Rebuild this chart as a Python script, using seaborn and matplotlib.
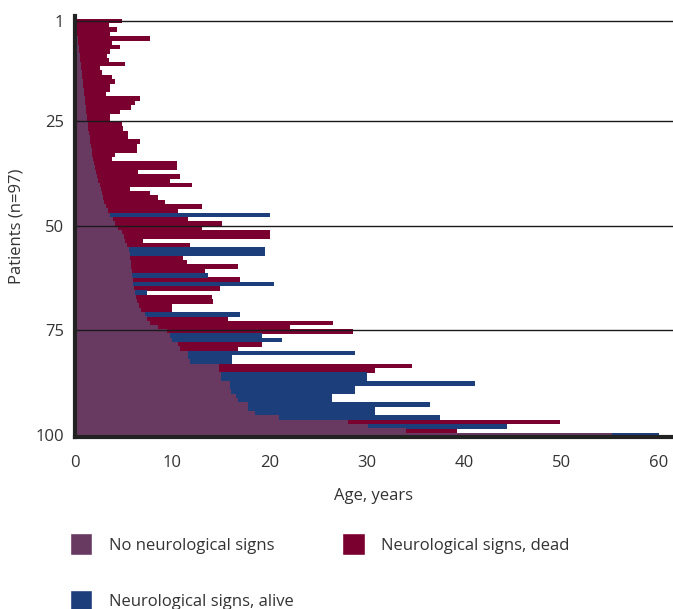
import numpy as np
import pandas as pd
import matplotlib
matplotlib.use("Agg")
import matplotlib.pyplot as plt
from matplotlib.patches import Patch
import seaborn as sns

# Age (years) at onset of neurological signs, age at last follow-up, outcome
onset = [0.1, 0.1, 0.2, 0.2, 0.3, 0.3, 0.4, 0.4, 0.5, 0.5,
         0.6, 0.6, 0.7, 0.7, 0.8, 0.8, 0.9, 0.9, 1.0, 1.0,
         1.1, 1.1, 1.2, 1.2, 1.3, 1.3, 1.4, 1.5, 1.5, 1.6,
         1.7, 1.8, 1.9, 2.0, 2.1, 2.2, 2.3, 2.4, 2.6, 2.7,
         2.8, 2.9, 3.0, 3.2, 3.4, 3.6, 3.9, 4.1, 4.4, 4.8,
         5.0, 5.1, 5.3, 5.5, 5.7, 5.7, 5.8, 5.8, 5.9, 5.9,
         6.0, 6.0, 6.1, 6.2, 6.3, 6.4, 6.6, 6.8, 7.2, 7.4,
         7.7, 8.5, 9.5, 9.8, 10.0, 10.6, 10.8, 11.6, 11.6, 11.8,
         14.8, 14.8, 15.0, 15.0, 15.9, 15.9, 16.0, 16.5, 16.7, 17.8,
         17.8, 18.5, 21.0, 28.1, 30.1, 34.0, 55.2]
end = [4.8, 3.5, 4.3, 3.6, 7.7, 3.8, 4.6, 3.6, 3.3, 3.5,
       5.1, 2.6, 2.8, 3.8, 4.1, 3.6, 3.6, 3.2, 6.7, 6.2,
       5.8, 4.6, 3.6, 3.6, 4.8, 4.9, 5.4, 5.4, 6.7, 6.4,
       6.4, 4.1, 3.8, 10.5, 10.5, 6.5, 10.8, 9.8, 12.0, 5.7,
       7.7, 8.5, 9.2, 13.0, 10.6, 20.0, 11.6, 15.1, 13.0, 20.0,
       20.0, 7.0, 11.8, 19.5, 19.5, 11.1, 11.5, 16.7, 13.4, 13.7,
       17.0, 20.4, 14.9, 7.4, 14.1, 14.2, 10.0, 10.0, 17.0, 15.7,
       26.5, 22.1, 28.6, 19.2, 21.3, 19.2, 16.7, 28.8, 16.1, 16.1,
       34.6, 30.8, 30.0, 30.0, 41.1, 28.8, 28.8, 26.4, 26.4, 36.5,
       30.8, 30.8, 37.5, 49.8, 44.4, 39.3, 60.0]
status = ["dead"] * 45 + ["alive", "dead", "dead", "dead", "dead",
          "dead", "dead", "dead", "alive", "alive", "dead", "dead", "dead", "dead", "alive",
          "dead", "alive", "dead", "alive", "dead", "dead", "dead", "dead", "alive", "dead",
          "dead", "dead", "dead", "alive", "alive", "dead", "dead", "alive", "alive", "alive",
          "dead", "dead", "alive", "alive", "alive", "alive", "alive", "alive", "alive", "alive",
          "alive", "alive", "alive", "dead", "alive", "dead", "alive"]

y_ticks = [1, 25, 50, 75, 100]
x_ticks = [0, 10, 20, 30, 40, 50, 60]

purple = "#683a62"
red = "#7a002f"
blue = "#1c3f7c"
text_col = "#333333"

df = pd.DataFrame({"onset": onset, "end": end, "status": status})
df["pos"] = np.linspace(1, 100, len(df))

sns.set_style("white")
plt.rcParams["font.family"] = ["Open Sans", "DejaVu Sans"]

fig = plt.figure(figsize=(6.73, 6.09), dpi=100)
ax = fig.add_axes([0.1114, 0.2824, 0.8886, 0.6913])

# disease course bars (onset -> last follow-up), then symptom-free period on top
sns.barplot(data=df, x="end", y="pos", hue="status", orient="y", native_scale=True,
            palette={"dead": red, "alive": blue}, width=1.08, dodge=False,
            errorbar=None, legend=False, saturation=1, linewidth=0, ax=ax)
sns.barplot(data=df, x="onset", y="pos", orient="y", native_scale=True,
            color=purple, width=1.08, errorbar=None, saturation=1, linewidth=0, ax=ax)

ax.set_xlim(0, 61.44)
ax.set_ylim(100.5, -0.2)
for yv in y_ticks[:-1]:
    ax.axhline(yv, color="#1a1a1a", lw=1.0, zorder=5)

ax.set_yticks(y_ticks)
ax.set_xticks(x_ticks)
ax.tick_params(axis="both", length=0, labelsize=12, colors=text_col, pad=8)
ax.tick_params(axis="x", pad=13)
ax.set_xlabel("Age, years", fontsize=12, color=text_col, labelpad=12)
ax.set_ylabel("Patients (n=97)", fontsize=12, color=text_col, labelpad=8)

for s in ["top", "right"]:
    ax.spines[s].set_visible(False)
for s in ["left", "bottom"]:
    ax.spines[s].set_color("#222222")
    ax.spines[s].set_linewidth(3)
    ax.spines[s].set_zorder(6)

handles = [Patch(facecolor=purple, label="No neurological signs"),
           Patch(facecolor=blue, label="Neurological signs, alive"),
           Patch(facecolor=red, label="Neurological signs, dead")]
fig.legend(handles=handles, ncol=2, loc="upper left", bbox_to_anchor=(0.104, 0.124),
           bbox_transform=fig.transFigure, frameon=False, fontsize=12,
           borderpad=0, borderaxespad=0,
           handlelength=1.35, handleheight=1.6, handletextpad=1.0,
           labelspacing=2.1, columnspacing=2.9, labelcolor=text_col)

fig.savefig("out.png", dpi=100)
